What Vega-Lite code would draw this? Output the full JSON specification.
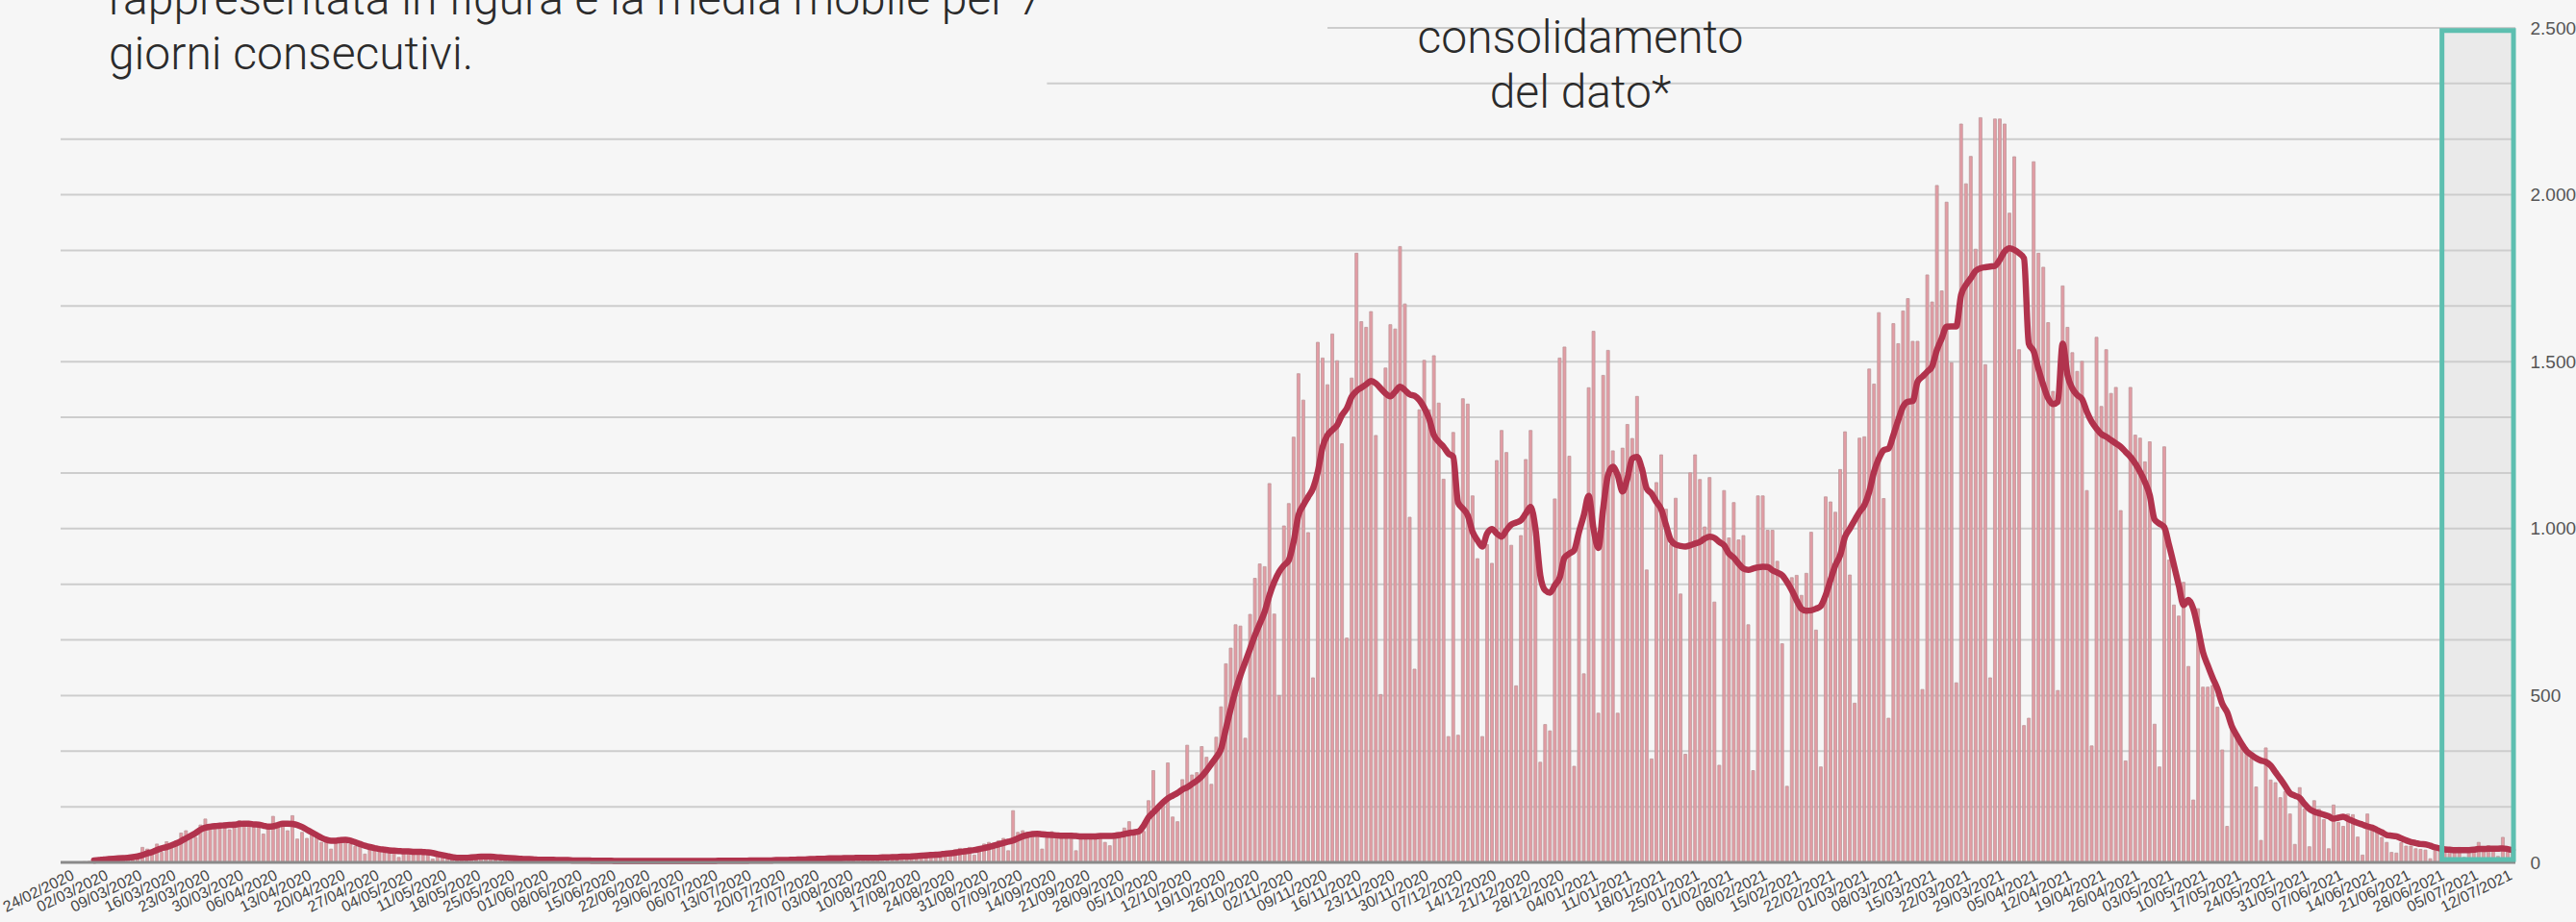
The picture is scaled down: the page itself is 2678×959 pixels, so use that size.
{
"$schema": "https://vega.github.io/schema/vega-lite/v6.json",
"width": 2562, "height": 868,
"autosize": {"type": "none"},
"padding": {"left": 58, "top": 29, "right": 58, "bottom": 62},
"background": "#f6f6f6",
"config": {"view": {"stroke": null}},
"datasets": {
"box": [{"s": "2021-06-28T10:00:00Z", "e": "2021-07-13T05:00:00Z", "y1": 9, "y2": 2492}],
"base": [{"g": 0, "s": "2020-02-22T02:00:00Z", "e": "2021-07-13T14:24:00Z"}],
"grid": [
{"g": 166.67, "s": "2020-02-22T02:00:00Z", "e": "2021-07-13T14:24:00Z"},
{"g": 333.33, "s": "2020-02-22T02:00:00Z", "e": "2021-07-13T14:24:00Z"},
{"g": 500, "s": "2020-02-22T02:00:00Z", "e": "2021-07-13T14:24:00Z"},
{"g": 666.67, "s": "2020-02-22T02:00:00Z", "e": "2021-07-13T14:24:00Z"},
{"g": 833.33, "s": "2020-02-22T02:00:00Z", "e": "2021-07-13T14:24:00Z"},
{"g": 1000, "s": "2020-02-22T02:00:00Z", "e": "2021-07-13T14:24:00Z"},
{"g": 1166.67, "s": "2020-02-22T02:00:00Z", "e": "2021-07-13T14:24:00Z"},
{"g": 1333.33, "s": "2020-02-22T02:00:00Z", "e": "2021-07-13T14:24:00Z"},
{"g": 1500, "s": "2020-02-22T02:00:00Z", "e": "2021-07-13T14:24:00Z"},
{"g": 1666.67, "s": "2020-02-22T02:00:00Z", "e": "2021-07-13T14:24:00Z"},
{"g": 1833.33, "s": "2020-02-22T02:00:00Z", "e": "2021-07-13T14:24:00Z"},
{"g": 2000, "s": "2020-02-22T02:00:00Z", "e": "2021-07-13T14:24:00Z"},
{"g": 2166.67, "s": "2020-02-22T02:00:00Z", "e": "2021-07-13T14:24:00Z"},
{"g": 2333.33, "s": "2020-09-13T00:00:00Z", "e": "2021-07-13T14:24:00Z"},
{"g": 2500, "s": "2020-11-10T00:00:00Z", "e": "2021-07-13T14:24:00Z"}
],
"ticks": [
{"t":"2020-02-24","lab":"24/02/2020"},{"t":"2020-03-02","lab":"02/03/2020"},{"t":"2020-03-09","lab":"09/03/2020"},{"t":"2020-03-16","lab":"16/03/2020"},{"t":"2020-03-23","lab":"23/03/2020"},{"t":"2020-03-30","lab":"30/03/2020"},{"t":"2020-04-06","lab":"06/04/2020"},{"t":"2020-04-13","lab":"13/04/2020"},{"t":"2020-04-20","lab":"20/04/2020"},{"t":"2020-04-27","lab":"27/04/2020"},{"t":"2020-05-04","lab":"04/05/2020"},{"t":"2020-05-11","lab":"11/05/2020"},{"t":"2020-05-18","lab":"18/05/2020"},{"t":"2020-05-25","lab":"25/05/2020"},{"t":"2020-06-01","lab":"01/06/2020"},{"t":"2020-06-08","lab":"08/06/2020"},{"t":"2020-06-15","lab":"15/06/2020"},{"t":"2020-06-22","lab":"22/06/2020"},{"t":"2020-06-29","lab":"29/06/2020"},{"t":"2020-07-06","lab":"06/07/2020"},{"t":"2020-07-13","lab":"13/07/2020"},{"t":"2020-07-20","lab":"20/07/2020"},{"t":"2020-07-27","lab":"27/07/2020"},{"t":"2020-08-03","lab":"03/08/2020"},{"t":"2020-08-10","lab":"10/08/2020"},{"t":"2020-08-17","lab":"17/08/2020"},{"t":"2020-08-24","lab":"24/08/2020"},{"t":"2020-08-31","lab":"31/08/2020"},{"t":"2020-09-07","lab":"07/09/2020"},{"t":"2020-09-14","lab":"14/09/2020"},{"t":"2020-09-21","lab":"21/09/2020"},{"t":"2020-09-28","lab":"28/09/2020"},{"t":"2020-10-05","lab":"05/10/2020"},{"t":"2020-10-12","lab":"12/10/2020"},{"t":"2020-10-19","lab":"19/10/2020"},{"t":"2020-10-26","lab":"26/10/2020"},{"t":"2020-11-02","lab":"02/11/2020"},{"t":"2020-11-09","lab":"09/11/2020"},{"t":"2020-11-16","lab":"16/11/2020"},{"t":"2020-11-23","lab":"23/11/2020"},{"t":"2020-11-30","lab":"30/11/2020"},{"t":"2020-12-07","lab":"07/12/2020"},{"t":"2020-12-14","lab":"14/12/2020"},{"t":"2020-12-21","lab":"21/12/2020"},{"t":"2020-12-28","lab":"28/12/2020"},{"t":"2021-01-04","lab":"04/01/2021"},{"t":"2021-01-11","lab":"11/01/2021"},{"t":"2021-01-18","lab":"18/01/2021"},{"t":"2021-01-25","lab":"25/01/2021"},{"t":"2021-02-01","lab":"01/02/2021"},{"t":"2021-02-08","lab":"08/02/2021"},{"t":"2021-02-15","lab":"15/02/2021"},{"t":"2021-02-22","lab":"22/02/2021"},{"t":"2021-03-01","lab":"01/03/2021"},{"t":"2021-03-08","lab":"08/03/2021"},{"t":"2021-03-15","lab":"15/03/2021"},{"t":"2021-03-22","lab":"22/03/2021"},{"t":"2021-03-29","lab":"29/03/2021"},{"t":"2021-04-05","lab":"05/04/2021"},{"t":"2021-04-12","lab":"12/04/2021"},{"t":"2021-04-19","lab":"19/04/2021"},{"t":"2021-04-26","lab":"26/04/2021"},{"t":"2021-05-03","lab":"03/05/2021"},{"t":"2021-05-10","lab":"10/05/2021"},{"t":"2021-05-17","lab":"17/05/2021"},{"t":"2021-05-24","lab":"24/05/2021"},{"t":"2021-05-31","lab":"31/05/2021"},{"t":"2021-06-07","lab":"07/06/2021"},{"t":"2021-06-14","lab":"14/06/2021"},{"t":"2021-06-21","lab":"21/06/2021"},{"t":"2021-06-28","lab":"28/06/2021"},{"t":"2021-07-05","lab":"05/07/2021"},{"t":"2021-07-12","lab":"12/07/2021"}
],
"ptext": [
{"txt": "rappresentata in figura e la media mobile per 7", "x": "2020-03-03T00:00:00Z", "y": 2540},
{"txt": "giorni consecutivi.", "x": "2020-03-03T00:00:00Z", "y": 2375}
],
"ctext": [
{"txt": "consolidamento", "x": "2021-01-01T07:00:00Z", "y": 2425},
{"txt": "del dato*", "x": "2021-01-01T07:00:00Z", "y": 2261}
],
"daily": [
{"t":"2020-02-24","v":0},{"t":"2020-02-25","v":0},{"t":"2020-02-26","v":1},{"t":"2020-02-27","v":2},{"t":"2020-02-28","v":3},{"t":"2020-02-29","v":3,"m":6},
{"t":"2020-03-01","v":8,"m":7},{"t":"2020-03-02","v":10,"m":9},{"t":"2020-03-03","v":12,"m":10},{"t":"2020-03-04","v":15,"m":11},{"t":"2020-03-05","v":11,"m":12},{"t":"2020-03-06","v":16,"m":13},{"t":"2020-03-07","v":9,"m":14},{"t":"2020-03-08","v":20,"m":16},{"t":"2020-03-09","v":24,"m":18},{"t":"2020-03-10","v":45,"m":22},{"t":"2020-03-11","v":40,"m":27},{"t":"2020-03-12","v":35,"m":31},{"t":"2020-03-13","v":55,"m":37},{"t":"2020-03-14","v":30,"m":42},{"t":"2020-03-15","v":62,"m":46},{"t":"2020-03-16","v":50,"m":51},{"t":"2020-03-17","v":65,"m":57},{"t":"2020-03-18","v":88,"m":64},{"t":"2020-03-19","v":95,"m":72},{"t":"2020-03-20","v":80,"m":80},{"t":"2020-03-21","v":75,"m":88},{"t":"2020-03-22","v":112,"m":98},{"t":"2020-03-23","v":130,"m":104},{"t":"2020-03-24","v":110,"m":107},{"t":"2020-03-25","v":115,"m":109},{"t":"2020-03-26","v":105,"m":110},{"t":"2020-03-27","v":118,"m":111},{"t":"2020-03-28","v":98,"m":112},{"t":"2020-03-29","v":110,"m":113},{"t":"2020-03-30","v":125,"m":115},{"t":"2020-03-31","v":112,"m":116},
{"t":"2020-04-01","v":120,"m":116},{"t":"2020-04-02","v":108,"m":114},{"t":"2020-04-03","v":118,"m":113},{"t":"2020-04-04","v":85,"m":110},{"t":"2020-04-05","v":112,"m":107},{"t":"2020-04-06","v":138,"m":108},{"t":"2020-04-07","v":110,"m":112},{"t":"2020-04-08","v":118,"m":116},{"t":"2020-04-09","v":95,"m":116},{"t":"2020-04-10","v":140,"m":115},{"t":"2020-04-11","v":70,"m":112},{"t":"2020-04-12","v":90,"m":106},{"t":"2020-04-13","v":72,"m":98},{"t":"2020-04-14","v":95,"m":90},{"t":"2020-04-15","v":75,"m":82},{"t":"2020-04-16","v":60,"m":74},{"t":"2020-04-17","v":70,"m":68},{"t":"2020-04-18","v":40,"m":65},{"t":"2020-04-19","v":65,"m":65},{"t":"2020-04-20","v":68,"m":67},{"t":"2020-04-21","v":72,"m":68},{"t":"2020-04-22","v":55,"m":65},{"t":"2020-04-23","v":48,"m":60},{"t":"2020-04-24","v":50,"m":55},{"t":"2020-04-25","v":25,"m":50},{"t":"2020-04-26","v":40,"m":46},{"t":"2020-04-27","v":38,"m":43},{"t":"2020-04-28","v":35,"m":40},{"t":"2020-04-29","v":30,"m":38},{"t":"2020-04-30","v":32,"m":36},
{"t":"2020-05-01","v":28,"m":35},{"t":"2020-05-02","v":15,"m":34},{"t":"2020-05-03","v":30,"m":33},{"t":"2020-05-04","v":35,"m":33},{"t":"2020-05-05","v":28,"m":32},{"t":"2020-05-06","v":30,"m":32},{"t":"2020-05-07","v":25,"m":31},{"t":"2020-05-08","v":22,"m":30},{"t":"2020-05-09","v":10,"m":28},{"t":"2020-05-10","v":25,"m":25},{"t":"2020-05-11","v":20,"m":22},{"t":"2020-05-12","v":18,"m":19},{"t":"2020-05-13","v":15,"m":16},{"t":"2020-05-14","v":12,"m":14},{"t":"2020-05-15","v":14,"m":14},{"t":"2020-05-16","v":5,"m":14},{"t":"2020-05-17","v":12,"m":15},{"t":"2020-05-18","v":18,"m":16},{"t":"2020-05-19","v":20,"m":17},{"t":"2020-05-20","v":15,"m":17},{"t":"2020-05-21","v":14,"m":17},{"t":"2020-05-22","v":12,"m":16},{"t":"2020-05-23","v":4,"m":15},{"t":"2020-05-24","v":10,"m":14},{"t":"2020-05-25","v":12,"m":13},{"t":"2020-05-26","v":10,"m":12},{"t":"2020-05-27","v":8,"m":11},{"t":"2020-05-28","v":9,"m":10},{"t":"2020-05-29","v":7,"m":10},{"t":"2020-05-30","v":2,"m":9},{"t":"2020-05-31","v":6,"m":8},
{"t":"2020-06-01","v":7,"m":8},{"t":"2020-06-02","v":9,"m":8},{"t":"2020-06-03","v":6,"m":8},{"t":"2020-06-04","v":5,"m":7},{"t":"2020-06-05","v":6,"m":7},{"t":"2020-06-06","v":1,"m":7},{"t":"2020-06-07","v":5,"m":6},{"t":"2020-06-08","v":7,"m":6},{"t":"2020-06-09","v":6,"m":6},{"t":"2020-06-10","v":4,"m":6},{"t":"2020-06-11","v":5,"m":5},{"t":"2020-06-12","v":6,"m":5},{"t":"2020-06-13","v":1,"m":5},{"t":"2020-06-14","v":4,"m":5},{"t":"2020-06-15","v":5,"m":5},{"t":"2020-06-16","v":3,"m":4},{"t":"2020-06-17","v":4,"m":4},{"t":"2020-06-18","v":5,"m":4},{"t":"2020-06-19","v":3,"m":4},{"t":"2020-06-20","v":1,"m":4},{"t":"2020-06-21","v":4,"m":4},{"t":"2020-06-22","v":3,"m":4},{"t":"2020-06-23","v":5,"m":4},{"t":"2020-06-24","v":4,"m":4},{"t":"2020-06-25","v":3,"m":4},{"t":"2020-06-26","v":4,"m":4},{"t":"2020-06-27","v":1,"m":4},{"t":"2020-06-28","v":3,"m":4},{"t":"2020-06-29","v":5,"m":4},{"t":"2020-06-30","v":4,"m":4},
{"t":"2020-07-01","v":3,"m":4},{"t":"2020-07-02","v":5,"m":4},{"t":"2020-07-03","v":6,"m":4},{"t":"2020-07-04","v":1,"m":4},{"t":"2020-07-05","v":4,"m":4},{"t":"2020-07-06","v":5,"m":4},{"t":"2020-07-07","v":6,"m":5},{"t":"2020-07-08","v":4,"m":5},{"t":"2020-07-09","v":5,"m":5},{"t":"2020-07-10","v":7,"m":5},{"t":"2020-07-11","v":2,"m":5},{"t":"2020-07-12","v":6,"m":5},{"t":"2020-07-13","v":5,"m":5},{"t":"2020-07-14","v":7,"m":6},{"t":"2020-07-15","v":6,"m":6},{"t":"2020-07-16","v":8,"m":6},{"t":"2020-07-17","v":5,"m":6},{"t":"2020-07-18","v":2,"m":6},{"t":"2020-07-19","v":7,"m":7},{"t":"2020-07-20","v":9,"m":7},{"t":"2020-07-21","v":8,"m":7},{"t":"2020-07-22","v":10,"m":8},{"t":"2020-07-23","v":11,"m":8},{"t":"2020-07-24","v":9,"m":9},{"t":"2020-07-25","v":4,"m":9},{"t":"2020-07-26","v":12,"m":10},{"t":"2020-07-27","v":14,"m":10},{"t":"2020-07-28","v":11,"m":11},{"t":"2020-07-29","v":13,"m":11},{"t":"2020-07-30","v":15,"m":12},{"t":"2020-07-31","v":12,"m":12},
{"t":"2020-08-01","v":6,"m":12},{"t":"2020-08-02","v":14,"m":13},{"t":"2020-08-03","v":16,"m":13},{"t":"2020-08-04","v":13,"m":13},{"t":"2020-08-05","v":17,"m":14},{"t":"2020-08-06","v":15,"m":14},{"t":"2020-08-07","v":14,"m":14},{"t":"2020-08-08","v":8,"m":14},{"t":"2020-08-09","v":16,"m":14},{"t":"2020-08-10","v":18,"m":15},{"t":"2020-08-11","v":20,"m":15},{"t":"2020-08-12","v":17,"m":16},{"t":"2020-08-13","v":22,"m":16},{"t":"2020-08-14","v":19,"m":17},{"t":"2020-08-15","v":10,"m":17},{"t":"2020-08-16","v":21,"m":18},{"t":"2020-08-17","v":25,"m":19},{"t":"2020-08-18","v":22,"m":20},{"t":"2020-08-19","v":28,"m":21},{"t":"2020-08-20","v":30,"m":22},{"t":"2020-08-21","v":26,"m":23},{"t":"2020-08-22","v":14,"m":24},{"t":"2020-08-23","v":32,"m":26},{"t":"2020-08-24","v":35,"m":27},{"t":"2020-08-25","v":38,"m":29},{"t":"2020-08-26","v":42,"m":31},{"t":"2020-08-27","v":40,"m":33},{"t":"2020-08-28","v":45,"m":35},{"t":"2020-08-29","v":22,"m":37},{"t":"2020-08-30","v":48,"m":40},{"t":"2020-08-31","v":55,"m":43},
{"t":"2020-09-01","v":60,"m":46},{"t":"2020-09-02","v":58,"m":50},{"t":"2020-09-03","v":65,"m":54},{"t":"2020-09-04","v":72,"m":58},{"t":"2020-09-05","v":35,"m":62},{"t":"2020-09-06","v":155,"m":66},{"t":"2020-09-07","v":90,"m":72},{"t":"2020-09-08","v":95,"m":78},{"t":"2020-09-09","v":90,"m":82},{"t":"2020-09-10","v":88,"m":85},{"t":"2020-09-11","v":85,"m":86},{"t":"2020-09-12","v":40,"m":84},{"t":"2020-09-13","v":85,"m":83},{"t":"2020-09-14","v":92,"m":82},{"t":"2020-09-15","v":80,"m":81},{"t":"2020-09-16","v":78,"m":80},{"t":"2020-09-17","v":85,"m":80},{"t":"2020-09-18","v":88,"m":80},{"t":"2020-09-19","v":35,"m":79},{"t":"2020-09-20","v":82,"m":78},{"t":"2020-09-21","v":80,"m":78},{"t":"2020-09-22","v":85,"m":78},{"t":"2020-09-23","v":78,"m":78},{"t":"2020-09-24","v":82,"m":79},{"t":"2020-09-25","v":60,"m":79},{"t":"2020-09-26","v":50,"m":79},{"t":"2020-09-27","v":73,"m":80},{"t":"2020-09-28","v":73,"m":82},{"t":"2020-09-29","v":103,"m":85},{"t":"2020-09-30","v":122,"m":88},
{"t":"2020-10-01","v":93,"m":90},{"t":"2020-10-02","v":93,"m":93},{"t":"2020-10-03","v":93,"m":110},{"t":"2020-10-04","v":185,"m":135},{"t":"2020-10-05","v":275,"m":150},{"t":"2020-10-06","v":159,"m":165},{"t":"2020-10-07","v":185,"m":180},{"t":"2020-10-08","v":298,"m":192},{"t":"2020-10-09","v":136,"m":200},{"t":"2020-10-10","v":122,"m":208},{"t":"2020-10-11","v":248,"m":218},{"t":"2020-10-12","v":351,"m":225},{"t":"2020-10-13","v":262,"m":235},{"t":"2020-10-14","v":269,"m":245},{"t":"2020-10-15","v":347,"m":258},{"t":"2020-10-16","v":315,"m":275},{"t":"2020-10-17","v":234,"m":295},{"t":"2020-10-18","v":375,"m":315},{"t":"2020-10-19","v":466,"m":340},{"t":"2020-10-20","v":595,"m":400},{"t":"2020-10-21","v":642,"m":460},{"t":"2020-10-22","v":712,"m":515},{"t":"2020-10-23","v":708,"m":560},{"t":"2020-10-24","v":372,"m":600},{"t":"2020-10-25","v":743,"m":640},{"t":"2020-10-26","v":851,"m":680},{"t":"2020-10-27","v":894,"m":715},{"t":"2020-10-28","v":886,"m":750},{"t":"2020-10-29","v":1135,"m":800},{"t":"2020-10-30","v":744,"m":840},{"t":"2020-10-31","v":500,"m":870},
{"t":"2020-11-01","v":1008,"m":890},{"t":"2020-11-02","v":1075,"m":905},{"t":"2020-11-03","v":1274,"m":960},{"t":"2020-11-04","v":1464,"m":1040},{"t":"2020-11-05","v":1385,"m":1070},{"t":"2020-11-06","v":988,"m":1095},{"t":"2020-11-07","v":553,"m":1120},{"t":"2020-11-08","v":1558,"m":1170},{"t":"2020-11-09","v":1511,"m":1245},{"t":"2020-11-10","v":1431,"m":1280},{"t":"2020-11-11","v":1583,"m":1295},{"t":"2020-11-12","v":1503,"m":1310},{"t":"2020-11-13","v":1254,"m":1340},{"t":"2020-11-14","v":672,"m":1360},{"t":"2020-11-15","v":1451,"m":1395},{"t":"2020-11-16","v":1825,"m":1412},{"t":"2020-11-17","v":1620,"m":1422},{"t":"2020-11-18","v":1603,"m":1432},{"t":"2020-11-19","v":1650,"m":1442},{"t":"2020-11-20","v":1279,"m":1435},{"t":"2020-11-21","v":503,"m":1420},{"t":"2020-11-22","v":1481,"m":1405},{"t":"2020-11-23","v":1611,"m":1396},{"t":"2020-11-24","v":1598,"m":1410},{"t":"2020-11-25","v":1845,"m":1425},{"t":"2020-11-26","v":1673,"m":1415},{"t":"2020-11-27","v":1034,"m":1402},{"t":"2020-11-28","v":579,"m":1398},{"t":"2020-11-29","v":1356,"m":1385},{"t":"2020-11-30","v":1504,"m":1362},
{"t":"2020-12-01","v":1356,"m":1330},{"t":"2020-12-02","v":1518,"m":1280},{"t":"2020-12-03","v":1376,"m":1260},{"t":"2020-12-04","v":1148,"m":1245},{"t":"2020-12-05","v":377,"m":1225},{"t":"2020-12-06","v":1288,"m":1215},{"t":"2020-12-07","v":381,"m":1078},{"t":"2020-12-08","v":1389,"m":1060},{"t":"2020-12-09","v":1373,"m":1040},{"t":"2020-12-10","v":1098,"m":990},{"t":"2020-12-11","v":910,"m":965},{"t":"2020-12-12","v":377,"m":946},{"t":"2020-12-13","v":952,"m":985},{"t":"2020-12-14","v":896,"m":999},{"t":"2020-12-15","v":1204,"m":985},{"t":"2020-12-16","v":1294,"m":976},{"t":"2020-12-17","v":1228,"m":995},{"t":"2020-12-18","v":950,"m":1012},{"t":"2020-12-19","v":529,"m":1018},{"t":"2020-12-20","v":979,"m":1025},{"t":"2020-12-21","v":1207,"m":1045},{"t":"2020-12-22","v":1294,"m":1065},{"t":"2020-12-23","v":1005,"m":1000},{"t":"2020-12-24","v":300,"m":860},{"t":"2020-12-25","v":413,"m":815},{"t":"2020-12-26","v":394,"m":808},{"t":"2020-12-27","v":1089,"m":830},{"t":"2020-12-28","v":1511,"m":853},{"t":"2020-12-29","v":1544,"m":913},{"t":"2020-12-30","v":1217,"m":925},{"t":"2020-12-31","v":288,"m":935},
{"t":"2021-01-01","v":1000,"m":990},{"t":"2021-01-02","v":565,"m":1040},{"t":"2021-01-03","v":1422,"m":1098},{"t":"2021-01-04","v":1591,"m":1000},{"t":"2021-01-05","v":447,"m":942},{"t":"2021-01-06","v":1459,"m":1060},{"t":"2021-01-07","v":1534,"m":1160},{"t":"2021-01-08","v":1233,"m":1185},{"t":"2021-01-09","v":447,"m":1160},{"t":"2021-01-10","v":1241,"m":1111},{"t":"2021-01-11","v":1312,"m":1150},{"t":"2021-01-12","v":1270,"m":1210},{"t":"2021-01-13","v":1396,"m":1215},{"t":"2021-01-14","v":1190,"m":1180},{"t":"2021-01-15","v":876,"m":1120},{"t":"2021-01-16","v":310,"m":1105},{"t":"2021-01-17","v":1138,"m":1080},{"t":"2021-01-18","v":1221,"m":1058},{"t":"2021-01-19","v":1058,"m":1010},{"t":"2021-01-20","v":952,"m":965},{"t":"2021-01-21","v":1091,"m":952},{"t":"2021-01-22","v":804,"m":948},{"t":"2021-01-23","v":324,"m":946},{"t":"2021-01-24","v":1167,"m":950},{"t":"2021-01-25","v":1221,"m":955},{"t":"2021-01-26","v":1147,"m":960},{"t":"2021-01-27","v":1005,"m":970},{"t":"2021-01-28","v":1153,"m":976},{"t":"2021-01-29","v":780,"m":972},{"t":"2021-01-30","v":291,"m":960},{"t":"2021-01-31","v":1114,"m":950},
{"t":"2021-02-01","v":972,"m":925},{"t":"2021-02-02","v":1078,"m":913},{"t":"2021-02-03","v":966,"m":895},{"t":"2021-02-04","v":979,"m":880},{"t":"2021-02-05","v":712,"m":876},{"t":"2021-02-06","v":275,"m":880},{"t":"2021-02-07","v":1098,"m":884},{"t":"2021-02-08","v":1098,"m":886},{"t":"2021-02-09","v":995,"m":885},{"t":"2021-02-10","v":995,"m":875},{"t":"2021-02-11","v":902,"m":868},{"t":"2021-02-12","v":655,"m":860},{"t":"2021-02-13","v":228,"m":840},{"t":"2021-02-14","v":853,"m":815},{"t":"2021-02-15","v":860,"m":785},{"t":"2021-02-16","v":800,"m":760},{"t":"2021-02-17","v":866,"m":754},{"t":"2021-02-18","v":989,"m":755},{"t":"2021-02-19","v":696,"m":760},{"t":"2021-02-20","v":286,"m":768},{"t":"2021-02-21","v":1095,"m":800},{"t":"2021-02-22","v":1080,"m":846},{"t":"2021-02-23","v":1049,"m":890},{"t":"2021-02-24","v":1177,"m":920},{"t":"2021-02-25","v":1290,"m":975},{"t":"2021-02-26","v":861,"m":1000},{"t":"2021-02-27","v":477,"m":1025},{"t":"2021-02-28","v":1271,"m":1050},
{"t":"2021-03-01","v":1275,"m":1070},{"t":"2021-03-02","v":1478,"m":1110},{"t":"2021-03-03","v":1433,"m":1170},{"t":"2021-03-04","v":1647,"m":1210},{"t":"2021-03-05","v":1090,"m":1235},{"t":"2021-03-06","v":432,"m":1240},{"t":"2021-03-07","v":1614,"m":1280},{"t":"2021-03-08","v":1554,"m":1325},{"t":"2021-03-09","v":1652,"m":1365},{"t":"2021-03-10","v":1689,"m":1380},{"t":"2021-03-11","v":1561,"m":1382},{"t":"2021-03-12","v":1561,"m":1440},{"t":"2021-03-13","v":518,"m":1455},{"t":"2021-03-14","v":1760,"m":1470},{"t":"2021-03-15","v":1679,"m":1486},{"t":"2021-03-16","v":2028,"m":1535},{"t":"2021-03-17","v":1712,"m":1570},{"t":"2021-03-18","v":1978,"m":1605},{"t":"2021-03-19","v":1497,"m":1606},{"t":"2021-03-20","v":538,"m":1606},{"t":"2021-03-21","v":2212,"m":1700},{"t":"2021-03-22","v":2033,"m":1730},{"t":"2021-03-23","v":2115,"m":1750},{"t":"2021-03-24","v":1837,"m":1772},{"t":"2021-03-25","v":2231,"m":1780},{"t":"2021-03-26","v":1491,"m":1783},{"t":"2021-03-27","v":553,"m":1785},{"t":"2021-03-28","v":2227,"m":1787},{"t":"2021-03-29","v":2227,"m":1805},{"t":"2021-03-30","v":2212,"m":1830},{"t":"2021-03-31","v":1945,"m":1840},
{"t":"2021-04-01","v":2114,"m":1835},{"t":"2021-04-02","v":1536,"m":1825},{"t":"2021-04-03","v":410,"m":1810},{"t":"2021-04-04","v":432,"m":1554},{"t":"2021-04-05","v":2099,"m":1531},{"t":"2021-04-06","v":1825,"m":1478},{"t":"2021-04-07","v":1783,"m":1430},{"t":"2021-04-08","v":1617,"m":1390},{"t":"2021-04-09","v":1411,"m":1373},{"t":"2021-04-10","v":515,"m":1380},{"t":"2021-04-11","v":1727,"m":1554},{"t":"2021-04-12","v":1603,"m":1460},{"t":"2021-04-13","v":1527,"m":1420},{"t":"2021-04-14","v":1471,"m":1400},{"t":"2021-04-15","v":1501,"m":1388},{"t":"2021-04-16","v":1114,"m":1350},{"t":"2021-04-17","v":349,"m":1320},{"t":"2021-04-18","v":1573,"m":1300},{"t":"2021-04-19","v":1366,"m":1283},{"t":"2021-04-20","v":1536,"m":1275},{"t":"2021-04-21","v":1405,"m":1265},{"t":"2021-04-22","v":1423,"m":1255},{"t":"2021-04-23","v":1054,"m":1245},{"t":"2021-04-24","v":304,"m":1230},{"t":"2021-04-25","v":1423,"m":1215},{"t":"2021-04-26","v":1280,"m":1195},{"t":"2021-04-27","v":1271,"m":1170},{"t":"2021-04-28","v":1200,"m":1140},{"t":"2021-04-29","v":1260,"m":1100},{"t":"2021-04-30","v":414,"m":1027},
{"t":"2021-05-01","v":286,"m":1015},{"t":"2021-05-02","v":1245,"m":1004},{"t":"2021-05-03","v":906,"m":950},{"t":"2021-05-04","v":771,"m":891},{"t":"2021-05-05","v":738,"m":830},{"t":"2021-05-06","v":839,"m":771},{"t":"2021-05-07","v":587,"m":786},{"t":"2021-05-08","v":187,"m":760},{"t":"2021-05-09","v":760,"m":700},{"t":"2021-05-10","v":525,"m":630},{"t":"2021-05-11","v":525,"m":590},{"t":"2021-05-12","v":530,"m":553},{"t":"2021-05-13","v":465,"m":520},{"t":"2021-05-14","v":337,"m":475},{"t":"2021-05-15","v":108,"m":450},{"t":"2021-05-16","v":402,"m":407},{"t":"2021-05-17","v":379,"m":380},{"t":"2021-05-18","v":349,"m":355},{"t":"2021-05-19","v":334,"m":334},{"t":"2021-05-20","v":312,"m":322},{"t":"2021-05-21","v":226,"m":312},{"t":"2021-05-22","v":66,"m":305},{"t":"2021-05-23","v":343,"m":301},{"t":"2021-05-24","v":247,"m":290},{"t":"2021-05-25","v":239,"m":270},{"t":"2021-05-26","v":194,"m":250},{"t":"2021-05-27","v":212,"m":229},{"t":"2021-05-28","v":145,"m":207},{"t":"2021-05-29","v":54,"m":200},{"t":"2021-05-30","v":224,"m":193},{"t":"2021-05-31","v":160,"m":175},
{"t":"2021-06-01","v":47,"m":160},{"t":"2021-06-02","v":185,"m":152},{"t":"2021-06-03","v":159,"m":147},{"t":"2021-06-04","v":128,"m":143},{"t":"2021-06-05","v":41,"m":138},{"t":"2021-06-06","v":172,"m":131},{"t":"2021-06-07","v":120,"m":134},{"t":"2021-06-08","v":108,"m":137},{"t":"2021-06-09","v":145,"m":130},{"t":"2021-06-10","v":143,"m":124},{"t":"2021-06-11","v":76,"m":118},{"t":"2021-06-12","v":22,"m":113},{"t":"2021-06-13","v":145,"m":108},{"t":"2021-06-14","v":97,"m":104},{"t":"2021-06-15","v":92,"m":97},{"t":"2021-06-16","v":75,"m":90},{"t":"2021-06-17","v":60,"m":82},{"t":"2021-06-18","v":30,"m":80},{"t":"2021-06-19","v":28,"m":78},{"t":"2021-06-20","v":59,"m":72},{"t":"2021-06-21","v":49,"m":66},{"t":"2021-06-22","v":49,"m":61},{"t":"2021-06-23","v":41,"m":58},{"t":"2021-06-24","v":39,"m":55},{"t":"2021-06-25","v":37,"m":54},{"t":"2021-06-26","v":11,"m":50},{"t":"2021-06-27","v":35,"m":45},{"t":"2021-06-28","v":40,"m":42},{"t":"2021-06-29","v":38,"m":39},{"t":"2021-06-30","v":35,"m":38},
{"t":"2021-07-01","v":30,"m":37},{"t":"2021-07-02","v":45,"m":37},{"t":"2021-07-03","v":15,"m":37},{"t":"2021-07-04","v":40,"m":37},{"t":"2021-07-05","v":42,"m":38},{"t":"2021-07-06","v":60,"m":40},{"t":"2021-07-07","v":45,"m":40},{"t":"2021-07-08","v":50,"m":41},{"t":"2021-07-09","v":42,"m":41},{"t":"2021-07-10","v":18,"m":41},{"t":"2021-07-11","v":75,"m":42},{"t":"2021-07-12","v":45,"m":40},{"t":"2021-07-13","v":40,"m":37}
]
},
"layer": [
{"data": {"name": "box"}, "mark": {"type": "rect", "fill": "#eaeaea"},
 "encoding": {"x": {"field": "s", "type": "temporal", "scale": {"type": "utc", "domain": [1582336512000, 1626186240000]}, "axis": null},
  "x2": {"field": "e"},
  "y": {"field": "y1", "type": "quantitative", "scale": {"domain": [0, 2500], "nice": false},
   "axis": {"title": null, "orient": "right", "domain": false, "ticks": false, "grid": false, "values": [0, 500, 1000, 1500, 2000, 2500], "labelFont": "Liberation Sans", "labelFontSize": 19, "labelColor": "#555555", "labelPadding": 10, "labelExpr": "replace(format(datum.value, ','), ',', '.')"}},
  "y2": {"field": "y2"}}},
{"data": {"name": "grid"}, "mark": {"type": "rule", "stroke": "#cdcdcd", "strokeWidth": 2},
 "encoding": {"x": {"field": "s", "type": "temporal"}, "x2": {"field": "e"},
  "y": {"field": "g", "type": "quantitative"}}},
{"data": {"name": "daily"}, "mark": {"type": "bar", "orient": "vertical", "width": 3, "fill": "#e39ca4", "stroke": "#bc9799", "strokeWidth": 0.8},
 "encoding": {"x": {"field": "t", "type": "temporal"},
  "y": {"field": "v", "type": "quantitative"}}},
{"data": {"name": "daily"}, "mark": {"type": "line", "stroke": "#b1334d", "strokeWidth": 6.5, "interpolate": "monotone", "strokeCap": "round", "strokeJoin": "round"},
 "encoding": {"x": {"field": "t", "type": "temporal"},
  "y": {"field": "m", "type": "quantitative"}}},
{"data": {"name": "base"}, "mark": {"type": "rule", "stroke": "#8a8a8a", "strokeWidth": 3},
 "encoding": {"x": {"field": "s", "type": "temporal"}, "x2": {"field": "e"},
  "y": {"field": "g", "type": "quantitative"}}},
{"data": {"name": "box"}, "mark": {"type": "rect", "fill": null, "fillOpacity": 0, "stroke": "#5dbfb0", "strokeWidth": 5},
 "encoding": {"x": {"field": "s", "type": "temporal"}, "x2": {"field": "e"},
  "y": {"field": "y1", "type": "quantitative"}, "y2": {"field": "y2"}}},
{"data": {"name": "ticks"}, "mark": {"type": "text", "align": "right", "baseline": "top", "angle": 334, "font": "Liberation Sans", "fontSize": 16, "fill": "#444444"},
 "encoding": {"x": {"field": "t", "type": "temporal"},
  "y": {"datum": -15, "type": "quantitative"}, "text": {"field": "lab"}}},
{"data": {"name": "ptext"}, "mark": {"type": "text", "align": "left", "baseline": "alphabetic", "font": "Roboto", "fontWeight": 300, "fontSize": 48, "fill": "#2b2b2b"},
 "encoding": {"x": {"field": "x", "type": "temporal"},
  "y": {"field": "y", "type": "quantitative"}, "text": {"field": "txt"}}},
{"data": {"name": "ctext"}, "mark": {"type": "text", "align": "center", "baseline": "alphabetic", "font": "Roboto", "fontWeight": 300, "fontSize": 48, "fill": "#2b2b2b"},
 "encoding": {"x": {"field": "x", "type": "temporal"},
  "y": {"field": "y", "type": "quantitative"}, "text": {"field": "txt"}}}
]
}
